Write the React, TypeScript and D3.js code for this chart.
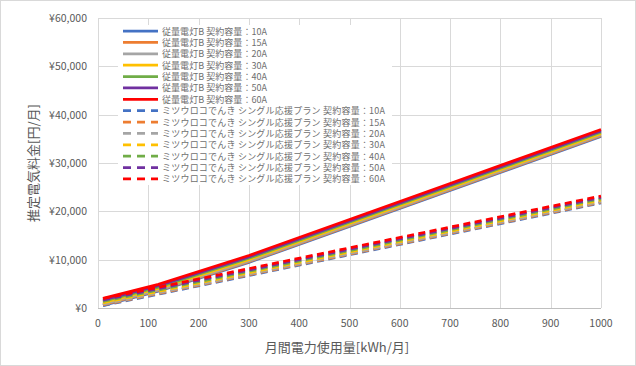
import { useEffect, useRef } from "react";
import * as d3 from "d3";

// monthly usage points (kWh) where values were read
const kwh = [10, 120, 300, 500, 700, 1000];
const contracts = ["10A", "15A", "20A", "30A", "40A", "50A", "60A"];
const colors = ["#4472C4", "#ED7D31", "#A5A5A5", "#FFC000", "#70AD47", "#7030A0", "#FF0000"];

// 従量電灯B (solid)
const juuryou10 = [551, 3471, 9436, 16882, 24328, 35497];
const juuryou15 = [694, 3614, 9579, 17025, 24471, 35640];
const juuryou20 = [837, 3757, 9722, 17168, 24614, 35783];
const juuryou30 = [1123, 4043, 10008, 17454, 24900, 36069];
const juuryou40 = [1409, 4329, 10294, 17740, 25186, 36355];
const juuryou50 = [1695, 4615, 10580, 18026, 25472, 36641];
const juuryou60 = [1981, 4901, 10866, 18312, 25758, 36927];

// ミツウロコでんき シングル応援プラン (dashed)
const single10 = [501, 2860, 6721, 11011, 15301, 21736];
const single15 = [644, 3003, 6864, 11154, 15444, 21879];
const single20 = [787, 3146, 7007, 11297, 15587, 22022];
const single30 = [1073, 3432, 7293, 11583, 15873, 22308];
const single40 = [1359, 3718, 7579, 11869, 16159, 22594];
const single50 = [1645, 4004, 7865, 12155, 16445, 22880];
const single60 = [1931, 4290, 8151, 12441, 16731, 23166];

const xTicks = [0, 100, 200, 300, 400, 500, 600, 700, 800, 900, 1000];
const yTicks = [0, 10000, 20000, 30000, 40000, 50000, 60000];

const solidSeries = [juuryou10, juuryou15, juuryou20, juuryou30, juuryou40, juuryou50, juuryou60];
const dashedSeries = [single10, single15, single20, single30, single40, single50, single60];

const font = "'Noto Sans CJK JP', 'Noto Sans', sans-serif";
const textColor = "#595959";

export default function App() {
  const svgRef = useRef<SVGSVGElement>(null);

  useEffect(() => {
    document.body.style.margin = "0";
    if (!svgRef.current) return;
    const svg = d3.select(svgRef.current);
    svg.selectAll("*").remove();

    const width = 636;
    const height = 366;
    const m = { left: 98, right: 601, top: 18, bottom: 308 };

    const x = d3.scaleLinear().domain([0, 1000]).range([m.left, m.right]);
    const y = d3.scaleLinear().domain([0, 60000]).range([m.bottom, m.top]);

    svg.append("rect")
      .attr("x", 0.5).attr("y", 0.5)
      .attr("width", width - 1).attr("height", height - 1)
      .attr("fill", "#fff").attr("stroke", "#d9d9d9");

    const grid = svg.append("g").attr("stroke", "#d9d9d9").attr("stroke-width", 1);
    grid.selectAll("line.h").data(yTicks).join("line")
      .attr("x1", m.left).attr("x2", m.right)
      .attr("y1", (d) => Math.round(y(d)) + 0.5).attr("y2", (d) => Math.round(y(d)) + 0.5);
    grid.selectAll("line.v").data(xTicks).join("line")
      .attr("y1", m.top).attr("y2", m.bottom)
      .attr("x1", (d) => Math.round(x(d)) + 0.5).attr("x2", (d) => Math.round(x(d)) + 0.5);

    svg.append("line")
      .attr("x1", m.left).attr("x2", m.right)
      .attr("y1", Math.round(y(0)) + 0.5).attr("y2", Math.round(y(0)) + 0.5)
      .attr("stroke", "#bfbfbf");

    const fmt = d3.format(",");
    svg.append("g").selectAll("text").data(yTicks).join("text")
      .attr("x", 87).attr("y", (d) => y(d) + 4)
      .attr("text-anchor", "end")
      .attr("font-family", font).attr("font-size", 10.5).attr("fill", textColor)
      .text((d) => "¥" + fmt(d));

    svg.append("g").selectAll("text").data(xTicks).join("text")
      .attr("x", (d) => x(d)).attr("y", 327)
      .attr("text-anchor", "middle")
      .attr("font-family", font).attr("font-size", 10.5).attr("fill", textColor)
      .text((d) => String(d));

    svg.append("text")
      .attr("x", 337).attr("y", 352)
      .attr("text-anchor", "middle")
      .attr("font-family", font).attr("font-size", 13).attr("fill", textColor)
      .text("月間電力使用量[kWh/月]");

    svg.append("text")
      .attr("transform", "translate(38,163) rotate(-90)")
      .attr("text-anchor", "middle")
      .attr("font-family", font).attr("font-size", 13).attr("fill", textColor)
      .text("推定電気料金[円/月]");

    const line = d3.line<number>()
      .x((_d, i) => x(kwh[i]))
      .y((d) => y(d));

    const plot = svg.append("g");
    solidSeries.forEach((s, i) => {
      plot.append("path").attr("d", line(s) ?? "")
        .attr("fill", "none").attr("stroke", colors[i]).attr("stroke-width", 2.75);
    });
    dashedSeries.forEach((s, i) => {
      plot.append("path").attr("d", line(s) ?? "")
        .attr("fill", "none").attr("stroke", colors[i]).attr("stroke-width", 2.75)
        .attr("stroke-dasharray", "7,4.5");
    });

    // legend
    const lg = svg.append("g");
    lg.append("rect").attr("x", 118).attr("y", 25).attr("width", 274).attr("height", 160).attr("fill", "#fff");
    const labels = [
      ...contracts.map((c) => `従量電灯B 契約容量：${c}`),
      ...contracts.map((c) => `ミツウロコでんき シングル応援プラン 契約容量：${c}`),
    ];
    labels.forEach((t, i) => {
      const ly = 31 + i * 11.38;
      lg.append("line")
        .attr("x1", 123).attr("x2", 158).attr("y1", ly).attr("y2", ly)
        .attr("stroke", colors[i % 7]).attr("stroke-width", 2.75)
        .attr("stroke-dasharray", i >= 7 ? "8,6" : null);
      lg.append("text")
        .attr("x", 162).attr("y", ly + 3.5)
        .attr("font-family", font).attr("font-size", 9).attr("fill", "#6f6f6f")
        .attr("textLength", i >= 7 ? 223 : 105)
        .attr("lengthAdjust", "spacing")
        .text(t);
    });
  }, []);

  return <svg ref={svgRef} width={636} height={366} style={{ display: "block" }} />;
}
